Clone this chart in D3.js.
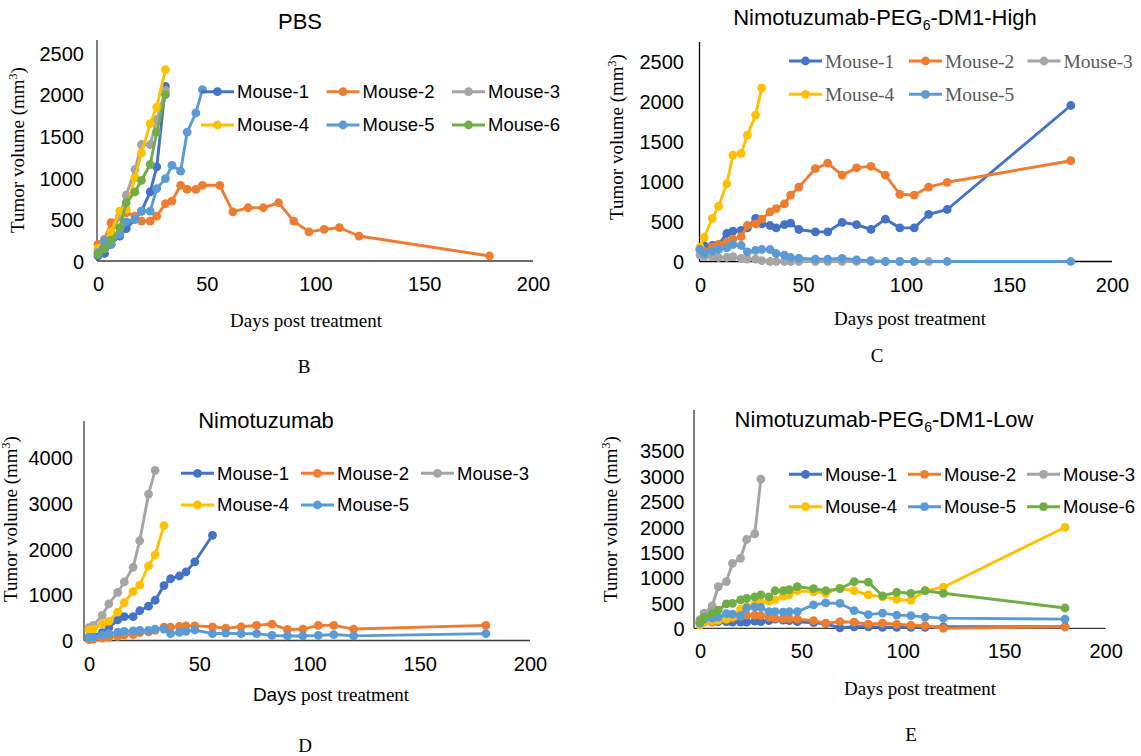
<!DOCTYPE html>
<html>
<head>
<meta charset="utf-8">
<script src="https://cdn.jsdelivr.net/npm/d3@7"></script>
<style>
body { margin: 0; background: #fff; }
</style>
</head>
<body>
<svg width="1141" height="756"></svg>
<script>
var SANS = "'Liberation Sans', Arial, sans-serif";
var SERIF = "'Liberation Serif', 'Times New Roman', serif";

var colors = ["#4472C4", "#ED7D31", "#A5A5A5", "#FFC000", "#5B9BD5", "#70AD47"];
var mice = ["Mouse-1", "Mouse-2", "Mouse-3", "Mouse-4", "Mouse-5", "Mouse-6"];
var xTicks = [0, 50, 100, 150, 200];

// measurement days
var pbsDays = [0, 3, 6, 10, 13, 17, 20, 24, 27, 31, 34, 38, 41, 45, 48, 56, 62, 69, 76, 83, 90, 97, 104, 111, 120, 180];
var days = [0, 2, 6, 9, 13, 16, 20, 23, 27, 30, 34, 37, 41, 44, 48, 56, 62, 69, 76, 83, 90, 97, 104, 111, 120, 180];

// B - PBS
var pbs1 = [60, 90, 200, 300, 390, 500, 600, 830, 1130, 2100];
var pbs2 = [200, 260, 460, 530, 580, 540, 480, 480, 540, 690, 720, 910, 860, 860, 910, 910, 590, 640, 640, 700, 480, 350, 380, 400, 300, 60];
var pbs3 = [100, 200, 300, 550, 790, 1100, 1400, 1400, 1700, 2050];
var pbs4 = [150, 250, 350, 600, 620, 1000, 1300, 1650, 1850, 2300];
var pbs5 = [100, 250, 200, 320, 470, 500, 600, 600, 870, 990, 1150, 1080, 1550, 1780, 2060];
var pbs6 = [80, 150, 250, 400, 700, 830, 970, 1160, 1550, 2000];
var pbsTicks = [0, 500, 1000, 1500, 2000, 2500];

// C - Nimotuzumab-PEG6-DM1-High
var high1 = [150, 200, 200, 210, 350, 380, 390, 420, 540, 470, 450, 420, 460, 480, 400, 370, 370, 490, 460, 400, 530, 420, 420, 590, 650, 1950];
var high2 = [150, 130, 180, 210, 240, 280, 310, 450, 470, 530, 620, 660, 720, 830, 930, 1160, 1230, 1080, 1170, 1190, 1080, 840, 830, 930, 990, 1260];
var high3 = [80, 60, 60, 50, 50, 60, 40, 30, 30, 10, 0, 0, 0, 0, 0, 0, 0, 0, 0, 0, 0, 0, 0, 0];
var high4 = [180, 300, 540, 690, 970, 1330, 1350, 1580, 1830, 2170];
var high5 = [150, 100, 130, 150, 170, 210, 200, 120, 140, 150, 150, 100, 80, 50, 40, 30, 30, 40, 20, 10, 0, 0, 0, null, 0, 0];
var highTicks = [0, 500, 1000, 1500, 2000, 2500];

// D - Nimotuzumab
var nimo1 = [80, 100, 170, 280, 450, 520, 520, 650, 750, 880, 1200, 1350, 1410, 1500, 1720, 2300];
var nimo2 = [20, 30, 50, 70, 90, 120, 130, 170, 190, 220, 290, 290, 310, 320, 320, 300, 270, 300, 330, 360, 240, 250, 330, 330, 250, 330];
var nimo3 = [280, 330, 550, 800, 1050, 1280, 1600, 2180, 3200, 3720];
var nimo4 = [230, 250, 360, 420, 620, 830, 1070, 1210, 1630, 1870, 2510];
var nimo5 = [70, 70, 120, 150, 180, 200, 210, 220, 220, 250, 250, 150, 180, 200, 230, 150, 160, 150, 150, 110, 100, 100, 110, 130, 100, 150];
var nimoTicks = [0, 1000, 2000, 3000, 4000];

// E - Nimotuzumab-PEG6-DM1-Low
var low1 = [100, 150, 140, 130, 130, 120, 120, 120, 140, 130, 150, 180, 160, 150, 130, 110, 90, 10, 30, 30, 20, 20, 20, 20, 30, 30];
var low2 = [150, 120, 120, 150, 180, 200, 240, 260, 260, 250, 220, 200, 190, 190, 180, 150, 100, 130, 120, 80, 100, 80, 60, 50, 0, 30];
var low3 = [170, 300, 440, 820, 920, 1280, 1380, 1750, 1860, 2940];
var low4 = [60, 130, 150, 160, 180, 230, 380, 430, 480, 510, 530, 560, 630, 660, 740, 720, 690, 790, 740, 660, 620, 570, 550, 740, 810, 1990];
var low5 = [100, 180, 200, 220, 290, 280, 250, 400, 420, 410, 330, 330, 320, 330, 330, 460, 500, 490, 350, 270, 300, 260, 250, 220, 200, 180];
var low6 = [130, 220, 300, 360, 480, 490, 560, 590, 620, 660, 620, 740, 740, 760, 820, 780, 740, 780, 920, 910, 640, 710, 690, 740, 690, 400];
var lowTicks = [0, 500, 1000, 1500, 2000, 2500, 3000, 3500];

var svg = d3.select("svg");

function drawPanel(p) {
  var g = svg.append("g");
  var x = d3.scaleLinear().domain([0, 200]).range([p.x0, p.x200]);
  var y = d3.scaleLinear().domain([0, p.yMax]).range([p.y0, p.yTop]);

  // title
  var t = g.append("text")
      .attr("x", p.titleX).attr("y", p.titleY)
      .attr("text-anchor", "middle")
      .attr("font-family", SANS).attr("font-size", 22).attr("fill", "#000");
  if (p.title.length == 1) {
    t.text(p.title[0]);
  } else {
    t.append("tspan").text(p.title[0]);
    t.append("tspan").attr("font-size", 14).attr("dy", 5).text(p.title[1]);
    t.append("tspan").attr("dy", -5).text(p.title[2]);
  }

  // axis lines
  g.append("line")
      .attr("x1", p.axisX).attr("x2", p.axisX)
      .attr("y1", p.axisTop).attr("y2", p.y0)
      .attr("stroke", p.axisColor).attr("stroke-width", 1.3);
  g.append("line")
      .attr("x1", p.axisX).attr("x2", x(200))
      .attr("y1", p.y0).attr("y2", p.y0)
      .attr("stroke", p.axisColor).attr("stroke-width", 1.3);

  // tick labels
  var ya = g.append("g")
      .attr("transform", "translate(" + p.labelRight + ",0)")
      .call(d3.axisLeft(y).tickValues(p.yTicks).tickSize(0).tickPadding(0).tickFormat(d3.format("d")));
  ya.select(".domain").remove();
  ya.attr("font-family", SANS).attr("font-size", 20);
  ya.selectAll("text").attr("fill", "#000").attr("dy", "0.36em");

  var xa = g.append("g")
      .attr("transform", "translate(0," + p.xLabelY + ")")
      .call(d3.axisBottom(x).tickValues(xTicks).tickSize(0).tickPadding(0));
  xa.select(".domain").remove();
  xa.attr("font-family", SANS).attr("font-size", 20);
  xa.selectAll("text").attr("fill", "#000").attr("dy", 0);

  // axis titles
  var xt = g.append("text")
      .attr("x", p.xTitleX).attr("y", p.xTitleY)
      .attr("text-anchor", "middle")
      .attr("font-family", SERIF).attr("font-size", 19).attr("fill", "#000");
  if (p.mixedXTitle) {
    xt.append("tspan").attr("font-family", SANS).text("Days");
    xt.append("tspan").text(" post treatment");
  } else {
    xt.text("Days post treatment");
  }

  var yt = g.append("text")
      .attr("transform", "translate(" + p.yTitleX + "," + p.yTitleY + ") rotate(-90)")
      .attr("text-anchor", "middle")
      .attr("font-family", SERIF).attr("font-size", 19).attr("fill", "#000");
  yt.append("tspan").text("Tumor volume (mm");
  yt.append("tspan").attr("font-size", 12).attr("dy", -7).text("3");
  yt.append("tspan").attr("dy", 7).text(")");

  g.append("text")
      .attr("x", p.labelX).attr("y", p.labelY)
      .attr("text-anchor", "middle")
      .attr("font-family", SERIF).attr("font-size", 19).attr("fill", "#000")
      .text(p.label);

  // series
  var line = d3.line()
      .x(function(d) { return x(d.day); })
      .y(function(d) { return y(d.v); });

  p.series.forEach(function(vals, i) {
    var pts = [];
    vals.forEach(function(v, j) {
      if (v != null) pts.push({day: p.days[j], v: v});
    });
    var s = g.append("g");
    s.append("path")
        .datum(pts)
        .attr("fill", "none")
        .attr("stroke", colors[i])
        .attr("stroke-width", 2.9)
        .attr("stroke-linejoin", "round")
        .attr("d", line);
    s.selectAll("circle")
        .data(pts)
        .enter()
        .append("circle")
        .attr("cx", function(d) { return x(d.day); })
        .attr("cy", function(d) { return y(d.v); })
        .attr("r", 4.4)
        .attr("fill", colors[i]);
  });

  // legend
  p.series.forEach(function(vals, i) {
    var tx = p.legX[i % 3];
    var ty = p.legY[Math.floor(i / 3)];
    var lg = g.append("g");
    lg.append("line")
        .attr("x1", tx - 36).attr("x2", tx - 3)
        .attr("y1", ty).attr("y2", ty)
        .attr("stroke", colors[i]).attr("stroke-width", 2.9);
    lg.append("circle")
        .attr("cx", tx - 19.5).attr("cy", ty).attr("r", 4.4)
        .attr("fill", colors[i]);
    lg.append("text")
        .attr("x", tx).attr("y", ty).attr("dy", "0.35em")
        .attr("font-family", p.legSerif ? SERIF : SANS)
        .attr("font-size", p.legSerif ? 19.5 : 18.5)
        .attr("fill", p.legSerif ? "#595959" : "#000")
        .text(mice[i]);
  });
}

drawPanel({
  title: ["PBS"], titleX: 300, titleY: 29,
  days: pbsDays, series: [pbs1, pbs2, pbs3, pbs4, pbs5, pbs6],
  x0: 98, x200: 533, y0: 261, yMax: 2500, yTop: 53, yTicks: pbsTicks,
  axisX: 97, axisTop: 40, axisColor: "#3a3a3a",
  labelRight: 84, xLabelY: 291,
  xTitleX: 306, xTitleY: 327, yTitleX: 24, yTitleY: 150,
  label: "B", labelX: 304, labelY: 373,
  legX: [237, 362.5, 488], legY: [91.7, 125], legSerif: false
});

drawPanel({
  title: ["Nimotuzumab-PEG", "6", "-DM1-High"], titleX: 885, titleY: 25,
  days: days, series: [high1, high2, high3, high4, high5],
  x0: 700, x200: 1112, y0: 261.5, yMax: 2500, yTop: 61.5, yTicks: highTicks,
  axisX: 699.5, axisTop: 42, axisColor: "#000",
  labelRight: 684, xLabelY: 291.5,
  xTitleX: 910, xTitleY: 325, yTitleX: 623, yTitleY: 137,
  label: "C", labelX: 877, labelY: 361.5,
  legX: [825, 945, 1063.5], legY: [61, 94.3], legSerif: true
});

drawPanel({
  title: ["Nimotuzumab"], titleX: 266, titleY: 428,
  days: days, series: [nimo1, nimo2, nimo3, nimo4, nimo5],
  x0: 89, x200: 530, y0: 640.5, yMax: 4000, yTop: 457.5, yTicks: nimoTicks,
  axisX: 84, axisTop: 421, axisColor: "#3a3a3a",
  labelRight: 73, xLabelY: 670.5,
  xTitleX: 331, xTitleY: 701, yTitleX: 17, yTitleY: 519, mixedXTitle: true,
  label: "D", labelX: 305, labelY: 751.5,
  legX: [217, 337, 457], legY: [473.3, 505], legSerif: false
});

drawPanel({
  title: ["Nimotuzumab-PEG", "6", "-DM1-Low"], titleX: 884, titleY: 426.5,
  days: days, series: [low1, low2, low3, low4, low5, low6],
  x0: 700, x200: 1105.6, y0: 628.3, yMax: 3500, yTop: 450.7, yTicks: lowTicks,
  axisX: 694, axisTop: 410, axisColor: "#3a3a3a",
  labelRight: 684.5, xLabelY: 658.3,
  xTitleX: 920, xTitleY: 695, yTitleX: 617, yTitleY: 519,
  label: "E", labelX: 911, labelY: 740.5,
  legX: [825, 944, 1063], legY: [474.3, 506.7], legSerif: false
});
</script>
</body>
</html>
